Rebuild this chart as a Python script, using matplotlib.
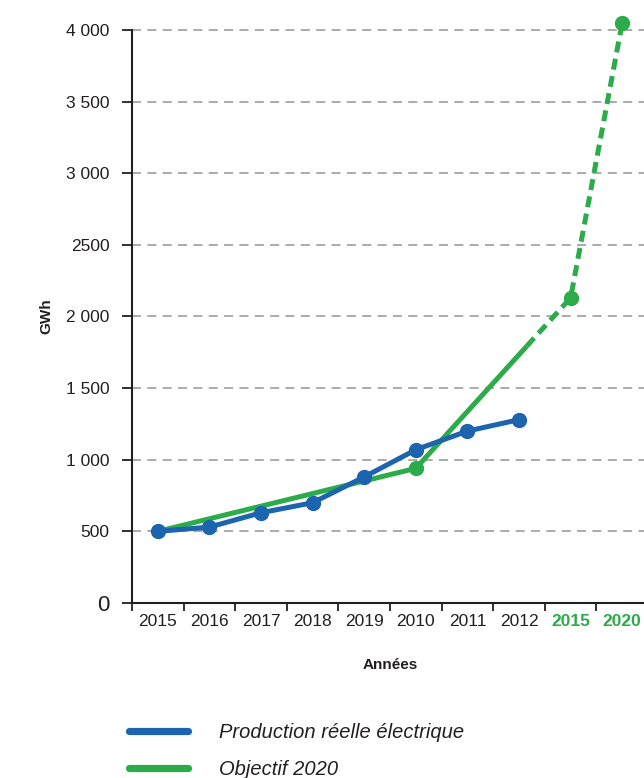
import matplotlib
matplotlib.use("Agg")
import matplotlib.pyplot as plt
from matplotlib.lines import Line2D
import numpy as np

plt.rcParams['font.family'] = ['Liberation Sans', 'DejaVu Sans']

# ---- data ----
categories = ["2015", "2016", "2017", "2018", "2019", "2010", "2011", "2012", "2015", "2020"]
target_cats = [8, 9]  # indices of objective years (green labels)
prod_idx = [0, 1, 2, 3, 4, 5, 6, 7]
prod_vals = [500, 530, 630, 700, 880, 1070, 1200, 1280]
obj_idx = [0, 5, 8, 9]
obj_vals = [500, 940, 2130, 4050]
ytick_vals = [0, 500, 1000, 1500, 2000, 2500, 3000, 3500, 4000]
ytick_labels = ["0", "500", "1 000", "1 500", "2 000", "2500", "3 000", "3 500", "4 000"]
legend_labels = ["Production réelle électrique", "Objectif 2020"]

BLUE = "#1c64ae"
GREEN = "#2bab4a"
GRID = "#a3a5a8"
TXT = "#231f20"

W, H = 644, 778
fig = plt.figure(figsize=(W / 100, H / 100), dpi=100)
left, right, bottom, top = 132, 648, 603, 30
ax = fig.add_axes([left / W, (H - bottom) / H, (right - left) / W, (bottom - top) / H])

ax.set_xlim(-0.5, len(categories) - 0.5)
ax.set_ylim(0, 4000)

# grid
for v in ytick_vals[1:]:
    ax.axhline(v, color=GRID, lw=1.3, ls=(0, (5, 3.5)), zorder=1, clip_on=False)

# objective line: solid then dashed
split = 7.15
x0, x1 = obj_idx[1], obj_idx[2]
y0, y1 = obj_vals[1], obj_vals[2]
ysplit = y0 + (y1 - y0) * (split - x0) / (x1 - x0)
ax.plot(obj_idx[:2] + [split], obj_vals[:2] + [ysplit], color=GREEN, lw=3.6,
        solid_capstyle='butt', zorder=3)
ax.plot([split] + obj_idx[2:], [ysplit] + obj_vals[2:], color=GREEN, lw=3.6,
        ls=(0, (2.2, 1.3)), dash_capstyle='butt', zorder=3, clip_on=False)
ax.plot(obj_idx[1:], obj_vals[1:], ls='none', marker='o', ms=10, color=GREEN,
        zorder=4, clip_on=False)

# production line
ax.plot(prod_idx, prod_vals, color=BLUE, lw=3.6, marker='o', ms=10, zorder=5,
        solid_joinstyle='round', clip_on=False)

# spines
for s in ['top', 'right']:
    ax.spines[s].set_visible(False)
for s in ['left', 'bottom']:
    ax.spines[s].set_linewidth(1.5)
    ax.spines[s].set_color(TXT)

# y ticks
ax.set_yticks(ytick_vals)
ax.set_yticklabels(ytick_labels)
ax.tick_params(axis='y', length=7, width=1.3, pad=9, labelsize=12.5, colors=TXT)
ax.get_yticklabels()[0].set_fontsize(16)

# x ticks at boundaries, labels at centers
ax.set_xticks(np.arange(-0.5, len(categories) - 0.5, 1.0))
ax.set_xticklabels([])
ax.tick_params(axis='x', length=6, width=1.3, colors=TXT)
ax.set_xticks(np.arange(len(categories)), minor=True)
ax.set_xticklabels(categories, minor=True)
ax.tick_params(axis='x', which='minor', length=0, pad=8, labelsize=12.5, colors=TXT)
for i, lab in enumerate(ax.get_xticklabels(minor=True)):
    if i in target_cats:
        lab.set_color(GREEN)
        lab.set_fontweight('bold')

ax.set_ylabel("GWh", fontsize=11, fontweight='bold', color=TXT)
ax.yaxis.set_label_coords((53 - left) / (right - left), 0.5)
ax.set_xlabel("Années", fontsize=11, fontweight='bold', color=TXT)
ax.xaxis.set_label_coords(0.5, -(658 - bottom) / (bottom - top))

# legend
handles = [Line2D([], [], color=BLUE, lw=5.2, solid_capstyle='round'),
           Line2D([], [], color=GREEN, lw=5.2, solid_capstyle='round')]
leg = fig.legend(handles, legend_labels, loc='upper left',
                 bbox_to_anchor=(121 / W, 1 - 715 / H), frameon=False,
                 handlelength=2.95, handletextpad=1.5, labelspacing=0.9,
                 borderaxespad=0.0,
                 prop={'style': 'italic', 'size': 14.5})
for t in leg.get_texts():
    t.set_color(TXT)

fig.savefig("out.png", dpi=100)
